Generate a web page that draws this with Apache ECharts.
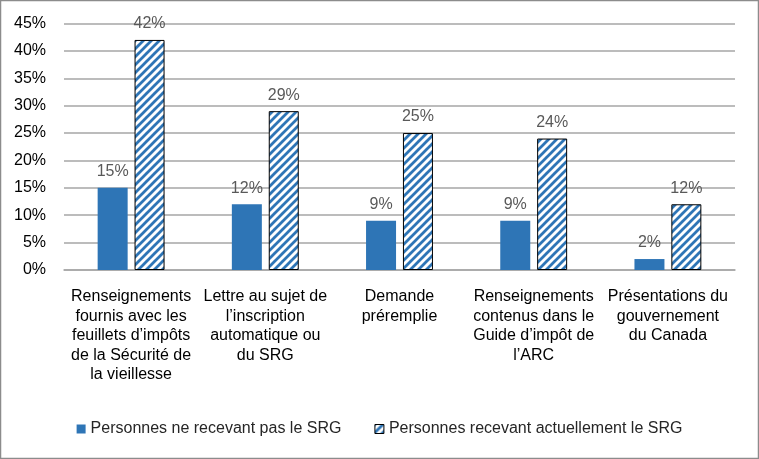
<!DOCTYPE html>
<html><head><meta charset="utf-8">
<script src="https://cdn.jsdelivr.net/npm/echarts@6/dist/echarts.min.js"></script>
<style>html,body{margin:0;padding:0;background:#fff}#c{width:759px;height:459px}</style>
</head><body><div id="c"></div>
<script>
const categories = [
  "Renseignements\nfournis avec les\nfeuillets d\u2019impôts\nde la Sécurité de\nla vieillesse",
  "Lettre au sujet de\nl\u2019inscription\nautomatique ou\ndu SRG",
  "Demande\npréremplie",
  "Renseignements\ncontenus dans le\nGuide d\u2019impôt de\nl\u2019ARC",
  "Présentations du\ngouvernement\ndu Canada"
];
const seriesNames = ["Personnes ne recevant pas le SRG", "Personnes recevant actuellement le SRG"];
const notReceiving = [15, 12, 9, 9, 2];
const receiving = [42, 29, 25, 24, 12];

const blue = '#2E75B6';
function makeHatch() {
  const s = 8;
  const c = document.createElement('canvas');
  c.width = s; c.height = s;
  const ctx = c.getContext('2d');
  ctx.fillStyle = '#fff'; ctx.fillRect(0, 0, s, s);
  ctx.strokeStyle = blue; ctx.lineWidth = 2.8;
  ctx.beginPath();
  ctx.moveTo(-2, s + 2); ctx.lineTo(s + 2, -2);
  ctx.moveTo(-2, 2); ctx.lineTo(2, -2);
  ctx.moveTo(s - 2, s + 2); ctx.lineTo(s + 2, s - 2);
  ctx.stroke();
  return c;
}
const hatch = makeHatch();
const font = 'Liberation Sans, sans-serif';
const chart = echarts.init(document.getElementById('c'), null, {renderer: 'canvas'});
chart.setOption({
  animation: false,
  graphic: [{type: 'rect', shape: {x: 0.5, y: 0.5, width: 758, height: 458}, style: {fill: 'none', stroke: '#8c8c8c', lineWidth: 1.5}, silent: true}],
  grid: {left: 64, right: 24, top: 23.5, bottom: 189},
  legend: {
    bottom: 17, left: 'center', itemWidth: 9, itemHeight: 9, itemGap: 33,
    textStyle: {fontFamily: font, fontSize: 16, color: '#262626'},
    data: [{name: seriesNames[0], icon: 'rect'}, {name: seriesNames[1], icon: 'rect', itemStyle: {color: {image: hatch, repeat: 'repeat'}, borderColor: '#000', borderWidth: 1}}]
  },
  xAxis: {
    type: 'category', data: categories,
    axisLine: {lineStyle: {color: '#a6a6a6', width: 1.5}},
    axisTick: {show: false},
    axisLabel: {interval: 0, fontFamily: font, fontSize: 16, color: '#000', lineHeight: 19.5, margin: 17}
  },
  yAxis: {
    type: 'value', min: 0, max: 45, interval: 5,
    axisLine: {show: false}, axisTick: {show: false},
    splitLine: {lineStyle: {color: '#a6a6a6', width: 1.5}},
    axisLabel: {formatter: v => v + '%', fontFamily: font, fontSize: 16, color: '#000', margin: 18}
  },
  series: [
    {name: seriesNames[0], type: 'bar', data: notReceiving, barWidth: 30, barGap: '23%',
     itemStyle: {color: blue},
     label: {show: true, position: 'top', formatter: '{c}%', fontFamily: font, fontSize: 16, color: '#595959', distance: 8}},
    {name: seriesNames[1], type: 'bar', data: receiving, barWidth: 30,
     itemStyle: {color: {image: hatch, repeat: 'repeat'}, borderColor: '#000', borderWidth: 1},
     label: {show: true, position: 'top', formatter: '{c}%', fontFamily: font, fontSize: 16, color: '#595959', distance: 8}}
  ]
});
</script></body></html>
